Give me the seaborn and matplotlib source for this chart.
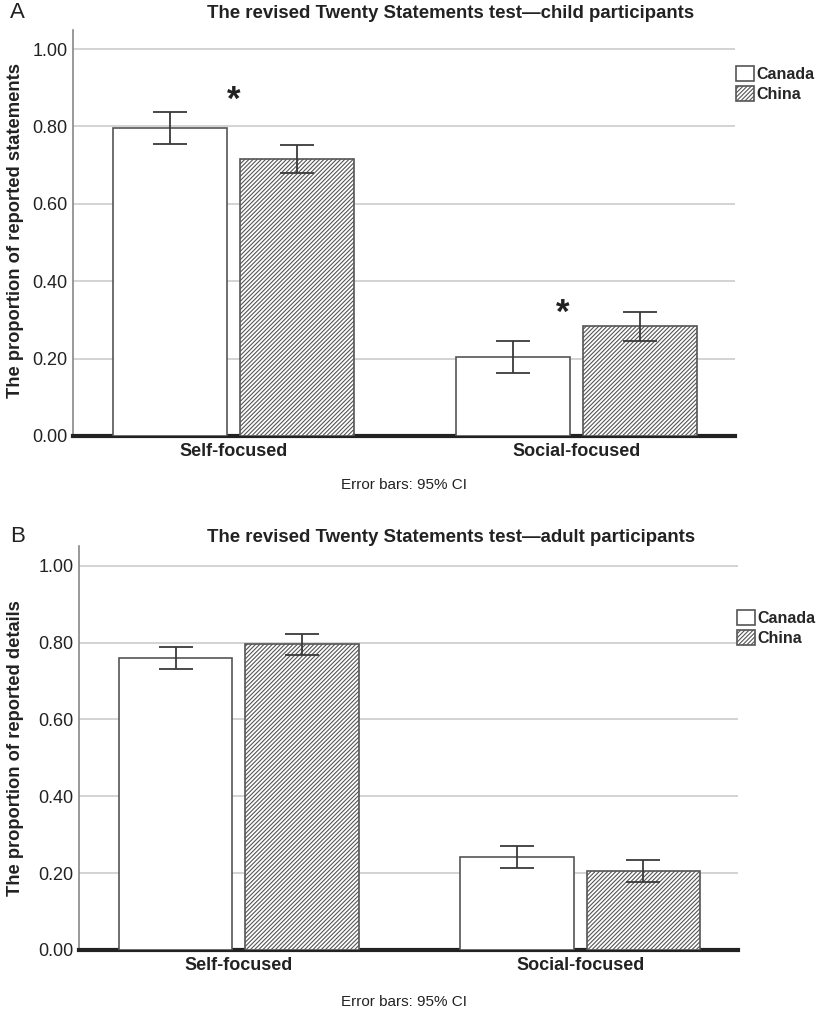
import numpy as np
import pandas as pd
import seaborn as sns
import matplotlib
matplotlib.use("Agg")
import matplotlib.pyplot as plt
from matplotlib.container import BarContainer

# ---- data ----
categories = ["Self-focused", "Social-focused"]
countries = ["Canada", "China"]

child_canada = [0.796, 0.204]
child_canada_lo = [0.755, 0.163]
child_canada_hi = [0.836, 0.245]
child_china = [0.716, 0.284]
child_china_lo = [0.680, 0.246]
child_china_hi = [0.752, 0.321]

adult_canada = [0.759, 0.242]
adult_canada_lo = [0.730, 0.213]
adult_canada_hi = [0.788, 0.271]
adult_china = [0.795, 0.205]
adult_china_lo = [0.767, 0.178]
adult_china_hi = [0.823, 0.234]

yticks = [0.0, 0.2, 0.4, 0.6, 0.8, 1.0]
ytick_labels = ["0.00", "0.20", "0.40", "0.60", "0.80", "1.00"]

sns.set_theme(style="white")
plt.rcParams["font.family"] = ["Liberation Sans", "DejaVu Sans"]
plt.rcParams["hatch.linewidth"] = 0.8

W, H = 834, 1011
fig = plt.figure(figsize=(W / 100, H / 100), dpi=100)

EDGE = "#555555"
ERR = "#3a3a3a"


def px_rect(left, right, top, bottom):
    return [left / W, 1 - bottom / H, (right - left) / W, (bottom - top) / H]


def panel(rect, canada, canada_lo, canada_hi, china, china_lo, china_hi,
          ylabel, title, title_y, letter, stars, legend_xy, note_y, ymid):
    ax = fig.add_axes(rect)
    df = pd.DataFrame({
        "category": categories * 2,
        "country": [countries[0]] * 2 + [countries[1]] * 2,
        "value": list(canada) + list(china),
    })
    sns.barplot(data=df, x="category", y="value", hue="country",
                order=categories, hue_order=countries,
                palette={"Canada": "white", "China": "white"},
                errorbar=None, width=0.74, gap=0.1, ax=ax,
                edgecolor=EDGE, linewidth=1.2, zorder=3)
    bar_conts = [c for c in ax.containers if isinstance(c, BarContainer)]
    for bar in bar_conts[1]:
        bar.set_hatch("////////")
        bar.set_edgecolor(EDGE)
    # error bars
    los = [canada_lo, china_lo]
    his = [canada_hi, china_hi]
    for ci, cont in enumerate(bar_conts):
        for bi, bar in enumerate(cont.patches):
            xc = bar.get_x() + bar.get_width() / 2
            v = bar.get_height()
            ax.errorbar([xc], [v],
                        yerr=[[v - los[ci][bi]], [his[ci][bi] - v]],
                        fmt="none", ecolor=ERR, elinewidth=1.3,
                        capsize=12, capthick=1.3, zorder=4)
    ax.set_ylim(0, 1.05)
    ax.set_xlim(-0.468, 1.462)
    ax.set_yticks(yticks)
    ax.set_yticklabels(ytick_labels, fontsize=13, color="#222222")
    ax.set_xticks(range(len(categories)))
    ax.set_xticklabels(categories, fontsize=13, fontweight="bold", color="#222222")
    ax.tick_params(axis="both", length=0, pad=4)
    ax.tick_params(axis="x", pad=5)
    ax.yaxis.grid(True, color="#cccccc", linewidth=1.2, zorder=0)
    ax.set_axisbelow(True)
    for s in ["top", "right"]:
        ax.spines[s].set_visible(False)
    ax.spines["left"].set_color("#888888")
    ax.spines["left"].set_linewidth(1.2)
    ax.spines["bottom"].set_color("#222222")
    ax.spines["bottom"].set_linewidth(3)
    ax.set_xlabel("")
    ax.set_ylabel(ylabel, fontsize=13.2, fontweight="bold", color="#222222")
    ax.yaxis.set_label_coords(24 / W, 1 - ymid / H, transform=fig.transFigure)
    for (sx, sy) in stars:
        ax.text(sx, sy, "*", ha="center", va="center", fontsize=25,
                fontweight="bold", color="#222222")
    handles = [bar_conts[0].patches[0], bar_conts[1].patches[0]]
    if ax.get_legend() is not None:
        ax.get_legend().remove()
    fig.legend(handles, countries, loc="upper left",
               bbox_to_anchor=(legend_xy[0] / W, 1 - legend_xy[1] / H),
               frameon=False, borderaxespad=0, borderpad=0,
               handlelength=1.1, handleheight=1.1, handletextpad=0.2,
               labelspacing=0.25, prop={"weight": "bold", "size": 11.5})
    fig.text(451 / W, 1 - title_y / H, title, ha="center", va="center",
             fontsize=13.4, fontweight="bold", color="#222222")
    fig.text(10 / W, 1 - title_y / H, letter, ha="left", va="center",
             fontsize=16, color="#222222")
    fig.text(404 / W, 1 - note_y / H, "Error bars: 95% CI", ha="center",
             va="center", fontsize=11, color="#222222")
    return ax


panel(px_rect(73, 735, 436 - 1.05 * 387, 436),
      child_canada, child_canada_lo, child_canada_hi,
      child_china, child_china_lo, child_china_hi,
      "The proportion of reported statements",
      "The revised Twenty Statements test\u2014child participants",
      13, "A", [(0.0, 0.866), (0.96, 0.318)], (736, 66), 485, 230)

panel(px_rect(79, 738, 950 - 1.05 * 384.3, 950),
      adult_canada, adult_canada_lo, adult_canada_hi,
      adult_china, adult_china_lo, adult_china_hi,
      "The proportion of reported details",
      "The revised Twenty Statements test\u2014adult participants",
      537, "B", [], (737, 610), 1002, 748)

fig.savefig("out.png", dpi=100)
